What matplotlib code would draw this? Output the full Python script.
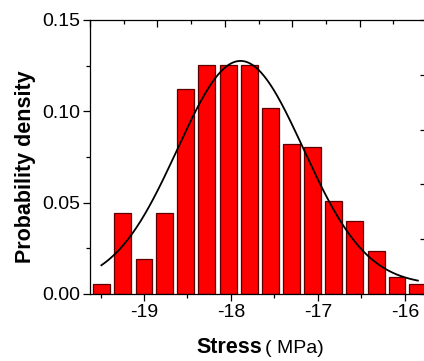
import numpy as np
import matplotlib
matplotlib.use("Agg")
import matplotlib.pyplot as plt
from matplotlib.ticker import MultipleLocator

plt.rcParams['font.family'] = ['Liberation Sans', 'DejaVu Sans']
plt.rcParams['axes.unicode_minus'] = False

# histogram bins (centres, MPa) and probability per bin
bin_centers = [-19.49, -19.25, -19.00, -18.76, -18.52, -18.28, -18.03, -17.79,
               -17.55, -17.30, -17.06, -16.82, -16.58, -16.33, -16.09, -15.85]
prob = [0.0053, 0.0442, 0.0192, 0.0442, 0.1124, 0.1252, 0.1252, 0.1252,
        0.1017, 0.0820, 0.0807, 0.0511, 0.0401, 0.0234, 0.0095, 0.0053]

# gaussian fit parameters (offset, amplitude, centre, sigma)
fit_y0 = 0.005
fit_amp = 0.1226
fit_xc = -17.89
fit_sigma = 0.725

fig = plt.figure(figsize=(4.24, 3.61), dpi=100)
rect = [90 / 424, 67 / 361, 337 / 424, 274 / 361]
ax = fig.add_axes(rect)

ax.bar(bin_centers, prob, width=0.195, color='#ff0000', edgecolor='#5a0000',
       linewidth=0.9, zorder=2)

xs = np.linspace(bin_centers[0], bin_centers[-1], 300)
ys = fit_y0 + fit_amp * np.exp(-(xs - fit_xc) ** 2 / (2 * fit_sigma ** 2))
ax.plot(xs, ys, color='black', linewidth=1.3, zorder=3)

ax.set_xlim(-19.621, -15.745)
ax.set_ylim(0, 0.15)
ax.xaxis.set_major_locator(MultipleLocator(1))
ax.xaxis.set_minor_locator(MultipleLocator(0.5))
ax.yaxis.set_major_locator(MultipleLocator(0.05))
ax.yaxis.set_minor_locator(MultipleLocator(0.025))
ax.yaxis.set_major_formatter(plt.FormatStrFormatter('%.2f'))
ax.tick_params(which='both', direction='out', top=False, right=False,
               labelsize=14, width=0.9)
ax.tick_params(which='major', length=5, pad=2)
ax.tick_params(which='minor', length=3)
for s in ax.spines.values():
    s.set_linewidth(0.9)

# frame ticks on top and right (origin style layer frame)
fr = fig.add_axes(rect, facecolor='none')
fr.set_xlim(0, 1)
fr.set_ylim(0, 1)
for s in fr.spines.values():
    s.set_visible(False)
fr.xaxis.set_major_locator(MultipleLocator(0.2))
fr.xaxis.set_minor_locator(MultipleLocator(0.1))
fr.yaxis.set_major_locator(MultipleLocator(0.2))
fr.yaxis.set_minor_locator(plt.NullLocator())
fr.tick_params(which='both', direction='in', top=True, bottom=False,
               left=False, right=True, labeltop=False, labelbottom=False,
               labelleft=False, labelright=False, width=0.9)
fr.tick_params(which='major', length=5)
fr.tick_params(which='minor', length=3)

fig.text(26 / 424, 1 - 167 / 361, 'Probability density', rotation=90,
         fontsize=15.5, fontweight='bold', ha='center', va='center')
fig.text(262 / 424, 1 - 353 / 361, 'Stress', fontsize=15.5,
         fontweight='bold', ha='right', va='baseline')
fig.text(265 / 424, 1 - 353 / 361, '( MPa)', fontsize=14,
         ha='left', va='baseline')

fig.savefig('out.png', dpi=100)
